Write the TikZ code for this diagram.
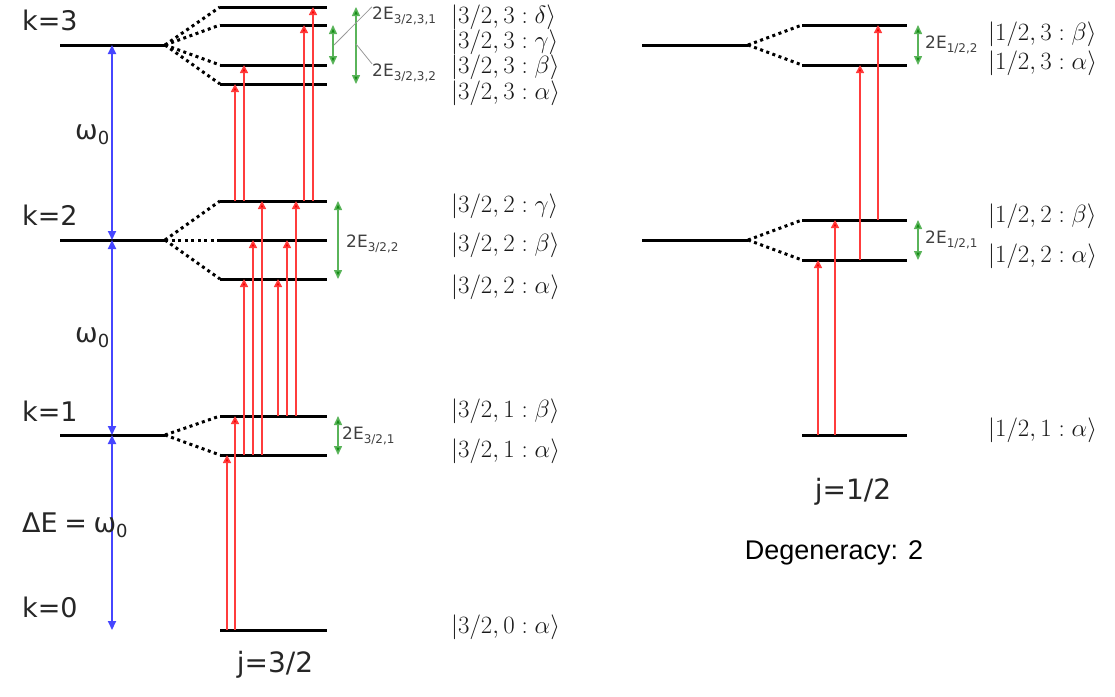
\documentclass[tikz,border=0pt]{standalone}
\usepackage{fontspec}
\newfontfamily\labfont{DejaVu Sans}
\newfontfamily\arialfont{Liberation Sans}
\usetikzlibrary{arrows.meta}
\definecolor{redline}{RGB}{255,60,60}
\definecolor{redhead}{RGB}{250,0,0}
\definecolor{blueline}{RGB}{70,70,255}
\definecolor{greenline}{RGB}{90,180,90}
\definecolor{greenhead}{RGB}{20,140,20}
\newcommand\mklevel[4]{\coordinate (#1) at (#2,#4); \coordinate (#1e) at (#3,#4); \draw[lev] (#1) -- (#1e);}
\newcommand\redtrans[3]{\draw[rarr] (#1,0 |- #2) -- (#1,0 |- #3);}
\newcommand\greentrans[3]{\draw[garr] (#1,0 |- #2) -- (#1,0 |- #3);}
\newcommand\esub[1]{2E\raisebox{-4pt}{\fontsize{12}{12}\selectfont #1}}
\newcommand\wsub{ω\raisebox{-5pt}{\fontsize{18}{18}\selectfont 0}}
\begin{document}
\begin{tikzpicture}[x=1pt,y=-1pt,
  lev/.style={line width=3pt,black},
  split/.style={line width=3pt,black,dash pattern=on 3pt off 3.5pt},
  rarr/.style={line width=1.6pt,draw=redline,-{Triangle[width=8pt,length=8pt,fill=redhead]}},
  barr/.style={line width=2pt,draw=blueline,{Triangle[width=8pt,length=9pt]}-{Triangle[width=8pt,length=9pt]}},
  garr/.style={line width=1.5pt,draw=greenline,{Triangle[width=8pt,length=9pt,fill=greenhead]}-{Triangle[width=8pt,length=9pt,fill=greenhead]}},
  lead/.style={line width=0.8pt,draw=gray!80},
  klab/.style={font=\labfont\fontsize{27}{27}\selectfont,anchor=west,inner sep=0pt,text=black!85},
  jlab/.style={font=\labfont\fontsize{28}{28}\selectfont,inner sep=0pt,text=black!85},
  elab/.style={font=\labfont\fontsize{17}{17}\selectfont,anchor=west,inner sep=0pt,text=black!75},
  ket/.style={font=\fontsize{26.5}{26.5}\selectfont,anchor=west,inner sep=0pt,text=black!90},
  rket/.style={font=\fontsize{28}{28}\selectfont,anchor=west,inner sep=0pt,text=black!90}
]
\useasboundingbox (0,0) rectangle (1115,696);

% ---------- j = 3/2 ----------
\mklevel{L3}{60}{165}{45}
\mklevel{L2}{60}{165}{240}
\mklevel{L1}{60}{165}{435}
\mklevel{s3d}{220}{327}{7}
\mklevel{s3g}{220}{327}{25}
\mklevel{s3b}{220}{327}{65}
\mklevel{s3a}{220}{327}{84}
\mklevel{s2g}{220}{327}{201}
\mklevel{s2b}{220}{327}{240}
\mklevel{s2a}{220}{327}{279}
\mklevel{s1b}{220}{327}{416}
\mklevel{s1a}{220}{327}{455}
\mklevel{s0}{220}{327}{630}

\foreach \s in {s3d,s3g,s3b,s3a} \draw[split] (L3e) -- (\s);
\foreach \s in {s2g,s2b,s2a} \draw[split] (L2e) -- (\s);
\foreach \s in {s1b,s1a} \draw[split] (L1e) -- (\s);

% blue spacing arrows
\coordinate (b3) at (112,0 |- L3);
\coordinate (b2) at (112,0 |- L2);
\coordinate (b1) at (112,0 |- L1);
\coordinate (b0) at (112,0 |- s0);
\draw[barr] (b3) -- (b2);
\draw[barr] (b2) -- (b1);
\draw[barr] (b1) -- (b0);

% red transitions
\redtrans{227}{s0}{s1a}
\redtrans{235}{s0}{s1b}
\redtrans{244}{s1a}{s2a}
\redtrans{253}{s1a}{s2b}
\redtrans{262}{s1a}{s2g}
\redtrans{278}{s1b}{s2a}
\redtrans{287}{s1b}{s2b}
\redtrans{296}{s1b}{s2g}
\redtrans{235}{s2g}{s3a}
\redtrans{244}{s2g}{s3b}
\redtrans{304}{s2g}{s3g}
\redtrans{313}{s2g}{s3d}

% green splittings
\greentrans{333}{s3g}{s3b}
\greentrans{356}{s3d}{s3a}
\greentrans{338}{s2g}{s2a}
\greentrans{338}{s1b}{s1a}

\node[elab] (e331) at (372,16) {\esub{3/2,3,1}};
\node[elab] (e332) at (372,73) {\esub{3/2,3,2}};
\coordinate (m331) at (334,45);
\coordinate (m332) at (356,44);
\draw[lead] (e331.north west) -- (m331);
\draw[lead] (e332.north west) -- (m332);
\node[elab] (e322) at (346,244) {\esub{3/2,2}};
\node[elab] (e321) at (342,436) {\esub{3/2,1}};

% labels
\node[klab] (k3) at (22,20) {k=3};
\node[klab] (k2) at (22,215) {k=2};
\node[klab] (k1) at (22,411) {k=1};
\node[klab] (k0) at (22,607) {k=0};
\node[klab] (w1) at (75,135) {\wsub};
\node[klab] (w2) at (75,338) {\wsub};
\node[klab] (dE) at (22,525) {ΔE\hspace{-2pt} =\hspace{-2pt} \wsub};
\node[jlab] (j32) at (275,665) {j=3/2};

% kets
\node[ket] (t3d) at (451,17) {$|3/2,3:\delta\rangle$};
\node[ket] (t3g) at (451,42) {$|3/2,3:\gamma\rangle$};
\node[ket] (t3b) at (451,67) {$|3/2,3:\beta\rangle$};
\node[ket] (t3a) at (451,93) {$|3/2,3:\alpha\rangle$};
\node[ket] (t2g) at (451,206) {$|3/2,2:\gamma\rangle$};
\node[ket] (t2b) at (451,245) {$|3/2,2:\beta\rangle$};
\node[ket] (t2a) at (451,287) {$|3/2,2:\alpha\rangle$};
\node[ket] (t1b) at (451,411) {$|3/2,1:\beta\rangle$};
\node[ket] (t1a) at (451,451) {$|3/2,1:\alpha\rangle$};
\node[ket] (t0a) at (451,627) {$|3/2,0:\alpha\rangle$};

% ---------- j = 1/2 ----------
\mklevel{R3}{642}{748}{45}
\mklevel{R2}{642}{748}{240}
\mklevel{r3b}{802}{907}{25}
\mklevel{r3a}{802}{907}{65}
\mklevel{r2b}{802}{907}{220}
\mklevel{r2a}{802}{907}{260}
\mklevel{r1}{802}{907}{435}
\foreach \s in {r3b,r3a} \draw[split] (R3e) -- (\s);
\foreach \s in {r2b,r2a} \draw[split] (R2e) -- (\s);

\redtrans{818}{r1}{r2a}
\redtrans{835}{r1}{r2b}
\redtrans{860}{r2a}{r3a}
\redtrans{878}{r2b}{r3b}
\greentrans{918}{r3b}{r3a}
\greentrans{918}{r2b}{r2a}
\node[elab] (e122) at (925,45) {\esub{1/2,2}};
\node[elab] (e121) at (925,240) {\esub{1/2,1}};

\node[rket] (u3b) at (988,34) {$|1/2,3:\beta\rangle$};
\node[rket] (u3a) at (988,63) {$|1/2,3:\alpha\rangle$};
\node[rket] (u2b) at (988,216) {$|1/2,2:\beta\rangle$};
\node[rket] (u2a) at (988,256) {$|1/2,2:\alpha\rangle$};
\node[rket] (u1a) at (988,430) {$|1/2,1:\alpha\rangle$};

\node[jlab] (j12) at (853,492) {j=1/2};
\node[font=\arialfont\fontsize{27}{27}\selectfont,inner sep=0pt] (deg) at (834,553) {Degeneracy: 2};
\end{tikzpicture}
\end{document}
